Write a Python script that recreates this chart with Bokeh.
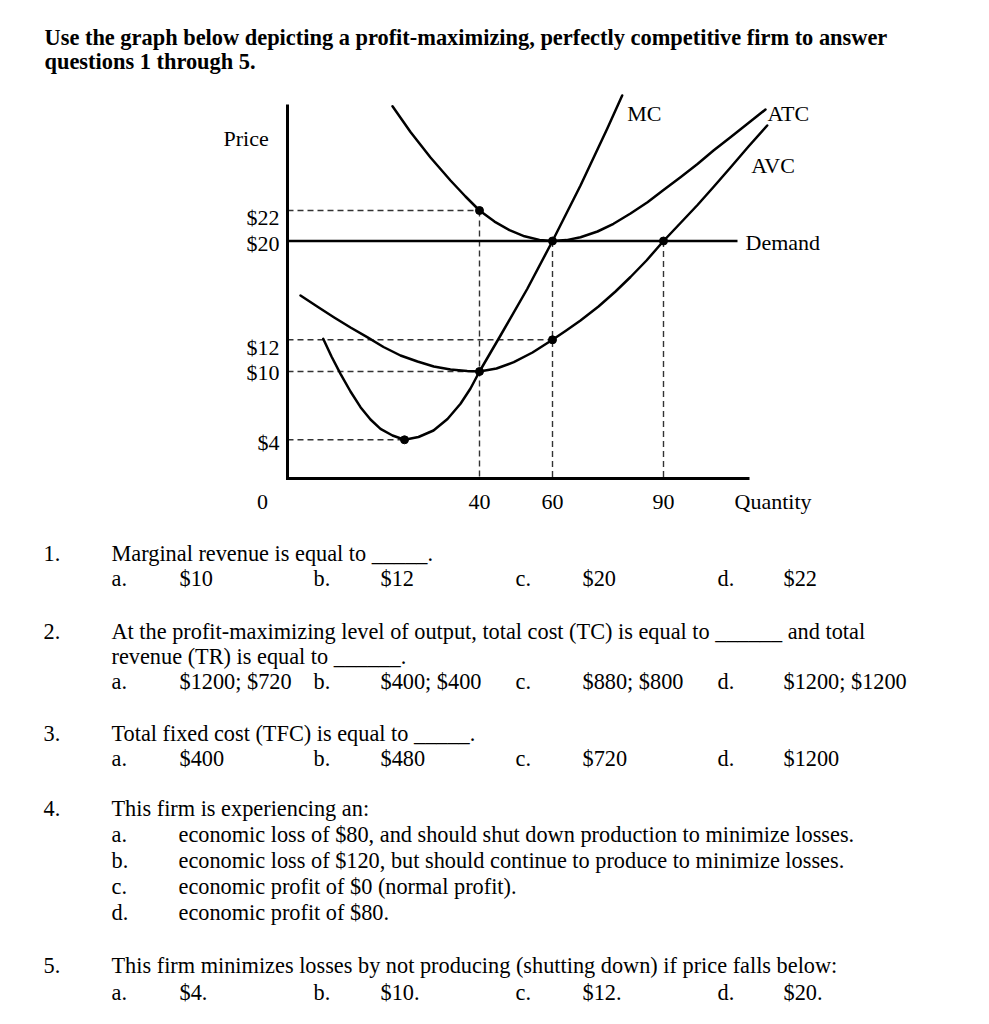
from bokeh.plotting import figure
from bokeh.models import Range1d
from bokeh.core.properties import value
from bokeh.embed import file_html
from bokeh.resources import INLINE

# ---------------- data (the graph is a sketch, not drawn to scale: sketch units from the axes' origin) ----------------
quantity_tick_labels = ["40", "60", "90"]
quantity_tick_pos = [192, 265, 376]
price_tick_labels = ["$22", "$20", "$12", "$10", "$4"]
price_tick_pos = [268, 237.5, 138.7, 107, 38.7]
mc_min_q = 117  # quantity where MC reaches its minimum ($4)

mc_x = [35.7, 44, 53, 63, 73, 83, 93, 105, 117, 131, 146, 160, 173, 183, 192, 213, 239.7, 265, 293, 319.7, 334.7]
mc_y = [139.7, 122, 104.7, 87, 71.3, 59, 49.7, 43, 38.7, 41.5, 48, 59.5, 74.7, 90, 107, 143, 189.5, 237.5, 293, 349.7, 383]

atc_x = [105, 123, 143, 163, 178, 192, 207, 222, 237, 252, 265, 279, 293, 310, 326, 343, 360, 376, 393, 410, 426, 443, 460, 478]
atc_y = [372.3, 346.5, 321, 298, 282, 268, 256.9, 248.3, 242.2, 238.6, 237.5, 238.4, 241.3, 247, 254.7, 265, 276.3, 288.5, 301.3, 314.5, 328, 341.3, 354.7, 369]

avc_x = [13, 29.7, 46.3, 63, 79.7, 96, 113, 130, 146.3, 163, 179.7, 192, 209, 226.3, 245, 265, 278, 293, 311, 328, 343, 359, 376, 393, 410, 426, 443, 461, 479.7]
avc_y = [183, 172, 161.3, 151, 141.3, 131.5, 123, 117, 112, 109, 107.5, 107, 110, 116.3, 126, 138.7, 147.5, 158, 172, 187, 201.5, 218, 237.5, 255.5, 273.5, 291.5, 311, 332, 353]

curve_names = ["MC", "ATC", "AVC", "Demand"]

header_lines = ["Use the graph below depicting a profit-maximizing, perfectly competitive firm to answer",
                "questions 1 through 5."]
question_numbers = ["1.", "2.", "3.", "4.", "5."]
question_stems = [
    ["Marginal revenue is equal to _____."],
    ["At the profit-maximizing level of output, total cost (TC) is equal to ______ and total",
     "revenue (TR) is equal to ______."],
    ["Total fixed cost (TFC) is equal to _____."],
    ["This firm is experiencing an:"],
    ["This firm minimizes losses by not producing (shutting down) if price falls below:"],
]
option_letters = ["a.", "b.", "c.", "d."]
q1_options = ["$10", "$12", "$20", "$22"]
q2_options = ["$1200; $720", "$400; $400", "$880; $800", "$1200; $1200"]
q3_options = ["$400", "$480", "$720", "$1200"]
q4_options = ["economic loss of $80, and should shut down production to minimize losses.",
              "economic loss of $120, but should continue to produce to minimize losses.",
              "economic profit of $0 (normal profit).",
              "economic profit of $80."]
q5_options = ["$4.", "$10.", "$12.", "$20."]

# ---------------- figure ----------------
W, H = 989, 1024
OX, OY = 287, 478  # where the sketch's origin sits on the page

p = figure(width=W, height=H, x_range=Range1d(0, W), y_range=Range1d(H, 0),
           x_axis_type=None, y_axis_type=None, toolbar_location=None,
           output_backend="svg", min_border=0, outline_line_color=None,
           background_fill_color="white", border_fill_color="white")
p.grid.visible = False
p.extra_x_ranges = {"gx": Range1d(-OX, W - OX)}
p.extra_y_ranges = {"gy": Range1d(-(H - OY), OY)}
G = dict(x_range_name="gx", y_range_name="gy")

FONT = value("Liberation Serif")
TXT = value("22.3px")
GTXT = value("22px")

q40, q60, q90 = quantity_tick_pos
p22, p20, p12, p10, p4 = price_tick_pos

# dashed guide lines
dash_xs = [[0, q40], [q40, q40], [0, q60], [0, q40], [0, mc_min_q], [q60, q60], [q90, q90]]
dash_ys = [[p22, p22], [p22, 0], [p12, p12], [p10, p10], [p4, p4], [p20, 0], [p20, 0]]
p.multi_line(dash_xs, dash_ys, line_color="#333333", line_width=1.4, line_dash="6 4", **G)

# axes
axis_top = 374
axis_right = 462
p.line([0, 0, axis_right], [axis_top, 0, 0], line_color="black", line_width=3, line_join="miter", **G)

# demand (P = MR = $20)
p.line([0, 450], [p20, p20], line_color="black", line_width=2.5, **G)

# cost curves
for cx, cy in [(mc_x, mc_y), (atc_x, atc_y), (avc_x, avc_y)]:
    p.line(cx, cy, line_color="black", line_width=2.5, line_join="round", line_cap="round", **G)

# key points
kx = [q40, q60, q90, q60, q40, mc_min_q]
ky = [p22, p20, p20, p12, p10, p4]
p.scatter(kx, ky, size=8, color="black", **G)

# price tick labels
nudges = [7, 2.5, 7.4, 1, 2.4]
p.text(x=[-8] * len(price_tick_labels), y=[t - n for t, n in zip(price_tick_pos, nudges)],
       text=price_tick_labels, text_font=FONT, text_font_size=GTXT,
       text_align="right", text_baseline="middle", text_color="black", **G)
# quantity tick labels
p.text(x=[-25] + quantity_tick_pos, y=[-23] * 4, text=["0"] + quantity_tick_labels,
       text_font=FONT, text_font_size=GTXT, text_align="center", text_baseline="middle",
       text_color="black", **G)
# axis titles and curve labels
p.text(x=[-64, 447, 339.7, 480, 463.7, 458], y=[340, -23, 364.7, 365, 313, 236.3],
       text=["Price", "Quantity"] + curve_names[:1] + ["ATC", "AVC", "Demand"],
       text_font=FONT, text_font_size=GTXT, text_align="left", text_baseline="middle",
       text_color="black", **G)

# ---------------- page text ----------------
p.text(x=[44, 44], y=[36.6, 61], text=header_lines, text_font=FONT, text_font_size=value("22.4px"),
       text_font_style="bold", text_align="left", text_baseline="middle", text_color="black")

stem_y = [[552.6], [630.6, 655.6], [732.6], [808], [965]]
p.text(x=[43] * 5, y=[s[0] for s in stem_y], text=question_numbers, text_font=FONT, text_font_size=TXT,
       text_align="left", text_baseline="middle", text_color="black")
sx, sy, st = [], [], []
for lines, ys in zip(question_stems, stem_y):
    for t, yy in zip(lines, ys):
        sx.append(111); sy.append(yy); st.append(t)
p.text(x=sx, y=sy, text=st, text_font=FONT, text_font_size=TXT,
       text_align="left", text_baseline="middle", text_color="black")

letter_x = [111, 313, 515, 717]
val_x = [179, 380, 582, 783]
ox, oy, ot = [], [], []
for opts, yy in [(q1_options, 577.6), (q2_options, 680.6), (q3_options, 757.6), (q5_options, 992)]:
    for i in range(4):
        ox += [letter_x[i], val_x[i]]
        oy += [yy, yy]
        ot += [option_letters[i], opts[i]]
for i, yy in enumerate([834, 860, 886, 912]):
    ox += [111, 178]
    oy += [yy, yy]
    ot += [option_letters[i], q4_options[i]]
p.text(x=ox, y=oy, text=ot, text_font=FONT, text_font_size=TXT,
       text_align="left", text_baseline="middle", text_color="black")

open("out.html", "w").write(file_html(p, INLINE))
